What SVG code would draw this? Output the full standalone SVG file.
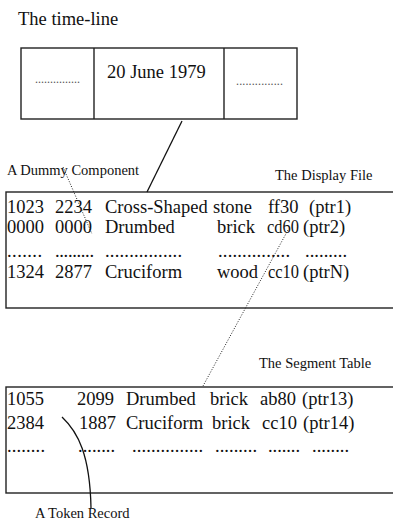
<svg xmlns="http://www.w3.org/2000/svg" width="393" height="520" viewBox="0 0 393 520" font-family="'Liberation Serif', 'Times New Roman', serif">
<style>
text{font-family:'Liberation Serif','Times New Roman',serif;fill:#111}
.big{font-size:18.5px}
.row{font-size:18.5px}
.lbl{font-size:14.5px}
.dots{font-size:12px;fill:#555}
.box{fill:none;stroke:#222;stroke-width:1.4}
.solid{fill:none;stroke:#111;stroke-width:1.3}
.dotted{fill:none;stroke:#222;stroke-width:1;stroke-dasharray:1 1.6}
</style>
<rect width="393" height="520" fill="#fff"/>
<text class="big" x="18" y="25">The time-line</text>
<g id="timeline">
<rect class="box" x="21" y="48" width="276" height="71"/>
<line class="box" x1="94" y1="48" x2="94" y2="119"/>
<line class="box" x1="224" y1="48" x2="224" y2="119"/>
<text class="dots" x="35" y="83" textLength="45" lengthAdjust="spacing">...............</text>
<text class="big" x="107" y="78">20 June 1979</text>
<text class="dots" x="236" y="85" textLength="47" lengthAdjust="spacing">...............</text>
</g>
<g id="display-file">
<text class="lbl" x="275" y="180">The Display File</text>
<rect class="box" x="6" y="192" width="400" height="116"/>
<text class="row" x="7" y="213">1023</text><text class="row" x="55" y="213">2234</text><text class="row" x="105" y="213">Cross-Shaped</text><text class="row" x="213" y="213">stone</text><text class="row" x="268" y="213">ff30</text><text class="row" x="309" y="213">(ptr1)</text>
<text class="row" x="7" y="233">0000</text><text class="row" x="55" y="233">0000</text><text class="row" x="105" y="233">Drumbed</text><text class="row" x="217" y="233">brick</text><text class="row" x="267" y="233" textLength="32" lengthAdjust="spacingAndGlyphs">cd60</text><text class="row" x="303" y="233">(ptr2)</text>
<text class="row" x="7" y="257" textLength="35" lengthAdjust="spacing">.......</text><text class="row" x="55" y="257" textLength="39" lengthAdjust="spacing">.........</text><text class="row" x="105" y="257" textLength="77" lengthAdjust="spacing">................</text><text class="row" x="218" y="257" textLength="72" lengthAdjust="spacing">...............</text><text class="row" x="305" y="257" textLength="42" lengthAdjust="spacing">.........</text>
<text class="row" x="7" y="278">1324</text><text class="row" x="55" y="278">2877</text><text class="row" x="105" y="278">Cruciform</text><text class="row" x="217" y="278">wood</text><text class="row" x="268" y="278" textLength="31" lengthAdjust="spacingAndGlyphs">cc10</text><text class="row" x="303" y="278">(ptrN)</text>
</g>
<g id="segment-table">
<text class="lbl" x="259" y="368">The Segment Table</text>
<rect class="box" x="6" y="387" width="400" height="106"/>
<text class="row" x="7" y="405">1055</text><text class="row" x="77" y="405">2099</text><text class="row" x="126" y="405">Drumbed</text><text class="row" x="210" y="405">brick</text><text class="row" x="260" y="405">ab80</text><text class="row" x="302" y="405">(ptr13)</text>
<text class="row" x="7" y="429">2384</text><text class="row" x="79" y="429">1887</text><text class="row" x="126" y="429">Cruciform</text><text class="row" x="212" y="429">brick</text><text class="row" x="262" y="429">cc10</text><text class="row" x="303" y="429">(ptr14)</text>
<text class="row" x="7" y="452" textLength="38" lengthAdjust="spacing">........</text><text class="row" x="78" y="452" textLength="37" lengthAdjust="spacing">........</text><text class="row" x="132" y="452" textLength="71" lengthAdjust="spacing">...............</text><text class="row" x="215" y="452" textLength="42" lengthAdjust="spacing">.........</text><text class="row" x="268" y="452" textLength="32" lengthAdjust="spacing">.......</text><text class="row" x="312" y="452" textLength="37" lengthAdjust="spacing">........</text>
</g>
<g id="dummy-label"><text class="lbl" x="7" y="175">A Dummy Component</text></g>
<g id="token-label"><text class="lbl" x="35" y="518">A Token Record</text></g>
<g id="connectors">
<line class="solid" x1="182" y1="121" x2="147" y2="192"/>
<line class="dotted" x1="63" y1="167" x2="92" y2="234"/>
<line class="dotted" x1="288" y1="230" x2="203" y2="386"/>
<path class="solid" d="M62,417 C78,432 90,455 91,508"/>
</g>
</svg>
